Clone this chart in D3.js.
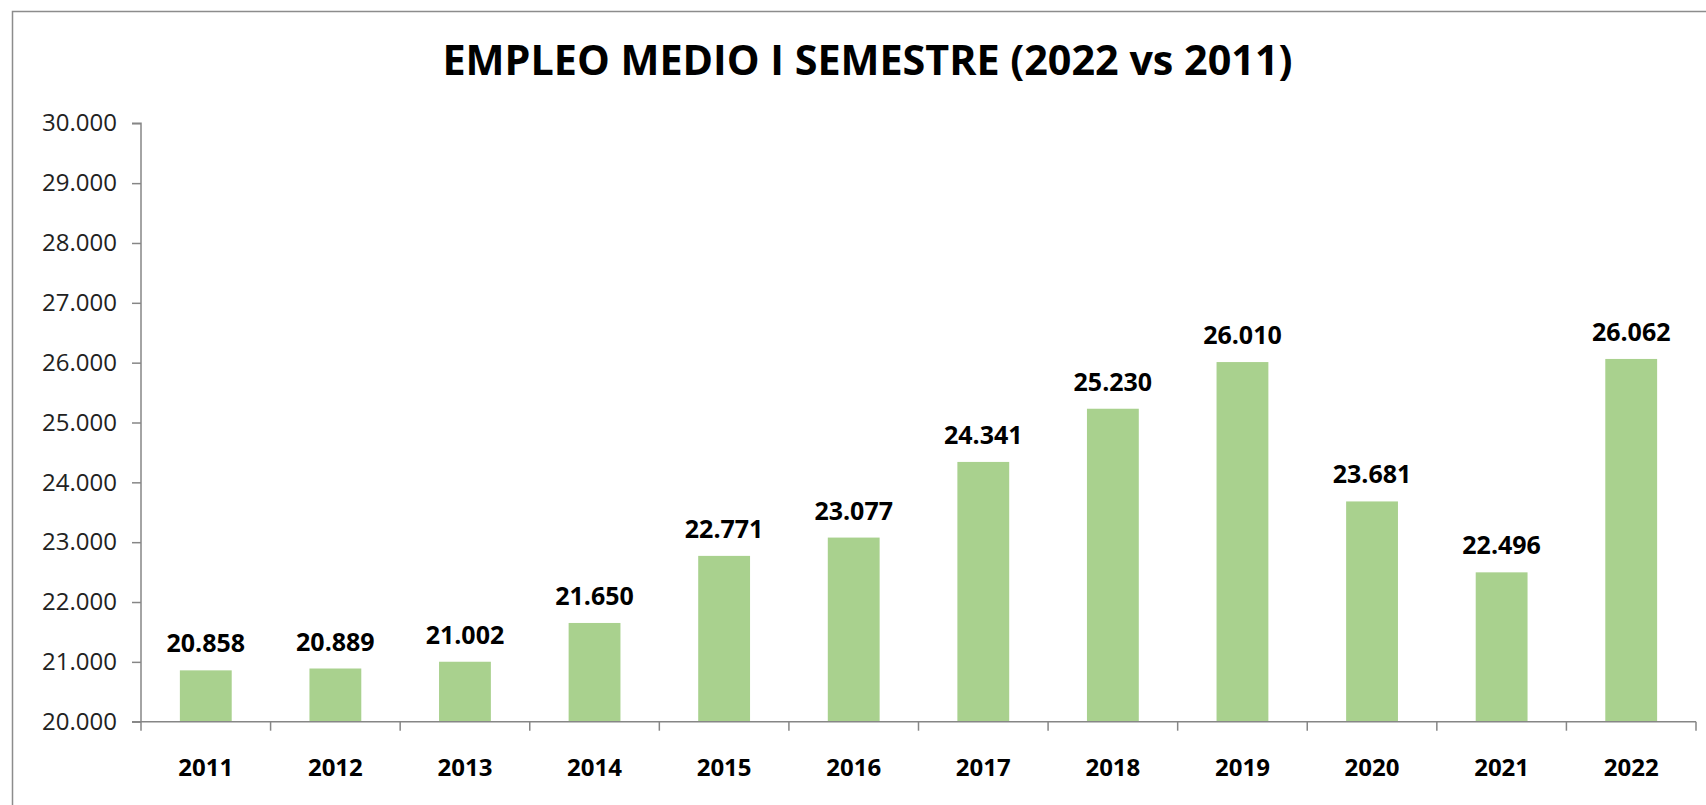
<!DOCTYPE html>
<html>
<head>
<meta charset="utf-8">
<script src="https://cdn.jsdelivr.net/npm/d3@7"></script>
<style>
  body { margin: 0; background: #fff; }
  svg { display: block; }
</style>
</head>
<body>
<div id="chart"></div>
<script>
// values
const data = [
  { year: "2011", value: 20858 },
  { year: "2012", value: 20889 },
  { year: "2013", value: 21002 },
  { year: "2014", value: 21650 },
  { year: "2015", value: 22771 },
  { year: "2016", value: 23077 },
  { year: "2017", value: 24341 },
  { year: "2018", value: 25230 },
  { year: "2019", value: 26010 },
  { year: "2020", value: 23681 },
  { year: "2021", value: 22496 },
  { year: "2022", value: 26062 }
];

const width = 1706;
const height = 805;
const margins = { top: 123.3, bottom: 83.3, left: 141, right: 10 };
// spanish number format: 20.858
const fmt = d3.formatLocale({ decimal: ",", thousands: ".", grouping: [3] }).format(",");

const svg = d3.select("#chart")
  .append("svg")
  .attr("width", width)
  .attr("height", height);

// outer chart border (runs off the right and bottom of the picture)
svg.append("rect")
  .attr("x", 12.5)
  .attr("y", 11.5)
  .attr("width", width)
  .attr("height", height)
  .attr("fill", "none")
  .attr("stroke", "#8c8c8c")
  .attr("stroke-width", 1.5);

const xScale = d3.scaleBand()
  .domain(data.map(d => d.year))
  .range([margins.left, width - margins.right])
  .paddingInner(0.6)
  .paddingOuter(0.3);

const yScale = d3.scaleLinear()
  .domain([20000, 30000])
  .range([height - margins.bottom, margins.top]);

// title
svg.append("text")
  .attr("x", 442.5)
  .attr("y", 75)
  .attr("textLength", 850)
  .attr("lengthAdjust", "spacingAndGlyphs")
  .attr("font-family", "Open Sans")
  .attr("font-weight", "bold")
  .attr("font-size", 40.5)
  .attr("fill", "#000")
  .text("EMPLEO MEDIO I SEMESTRE (2022 vs 2011)");

// y axis
const yAxis = svg.append("g")
  .attr("transform", `translate(${margins.left},0)`)
  .call(d3.axisLeft(yScale).ticks(10).tickFormat(fmt).tickSize(9).tickPadding(15));
yAxis.selectAll("path, line").attr("stroke", "#868686").attr("stroke-width", 1.5);
yAxis.select(".domain").attr("d", `M-9,${yScale(30000)}H0V${yScale(20000)}`);
yAxis.selectAll("text")
  .attr("font-family", "Open Sans")
  .attr("font-size", 24)
  .attr("fill", "#222");

// bars
svg.selectAll("rect.bar")
  .data(data)
  .join("rect")
  .attr("class", "bar")
  .attr("x", d => xScale(d.year))
  .attr("y", d => yScale(d.value))
  .attr("width", xScale.bandwidth())
  .attr("height", d => yScale(20000) - yScale(d.value))
  .attr("fill", "#a9d18e");

// x axis, ticks sit between the categories
const xAxis = svg.append("g")
  .attr("transform", `translate(0,${yScale(20000)})`);
xAxis.append("line")
  .attr("x1", margins.left - 9)
  .attr("x2", width - margins.right)
  .attr("stroke", "#868686")
  .attr("stroke-width", 1.5);
xAxis.selectAll("line.tick")
  .data(d3.range(data.length + 1).map(i => margins.left + i * xScale.step()))
  .join("line")
  .attr("class", "tick")
  .attr("x1", d => d)
  .attr("x2", d => d)
  .attr("y1", 0)
  .attr("y2", 9)
  .attr("stroke", "#868686")
  .attr("stroke-width", 1.5);
xAxis.selectAll("text")
  .data(data)
  .join("text")
  .attr("x", d => xScale(d.year) + xScale.bandwidth() / 2)
  .attr("y", 54)
  .attr("text-anchor", "middle")
  .attr("font-family", "Open Sans")
  .attr("font-weight", "bold")
  .attr("font-size", 24)
  .attr("fill", "#000")
  .text(d => d.year);

// value labels above the bars
svg.selectAll("text.count")
  .data(data)
  .join("text")
  .attr("class", "count")
  .attr("x", d => xScale(d.year) + xScale.bandwidth() / 2)
  .attr("y", d => yScale(d.value) - 18)
  .attr("text-anchor", "middle")
  .attr("font-family", "Open Sans")
  .attr("font-weight", "bold")
  .attr("font-size", 25)
  .attr("fill", "#000")
  .text(d => fmt(d.value));
</script>
</body>
</html>
